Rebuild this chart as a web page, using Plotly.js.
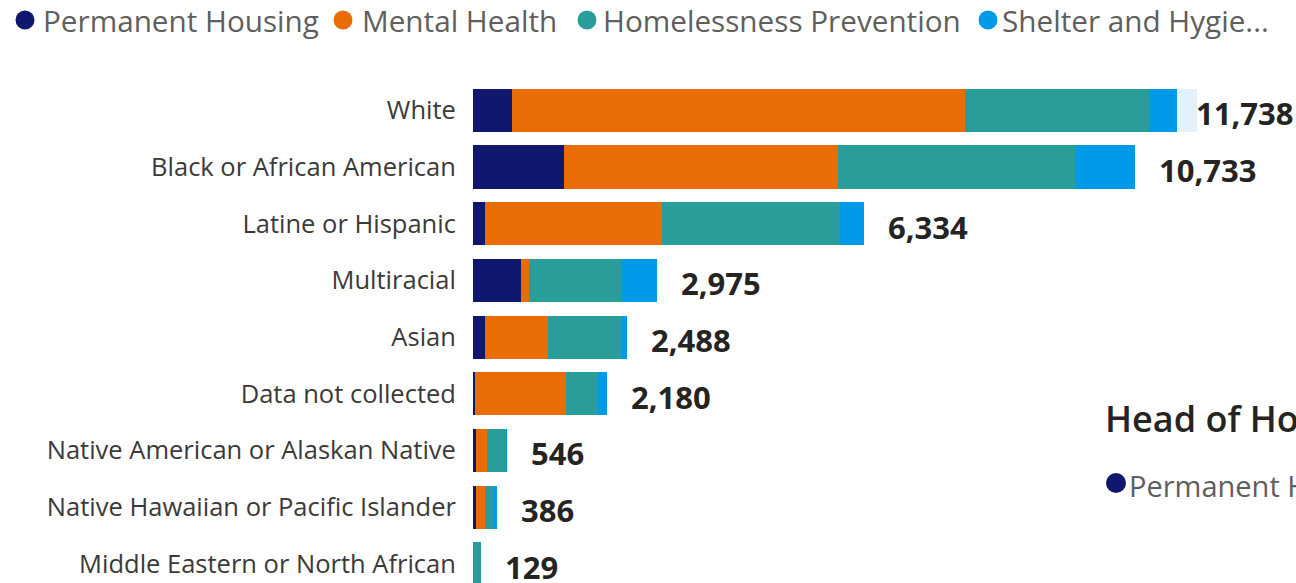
<!DOCTYPE html>
<html>
<head>
<meta charset="utf-8">
<script src="https://cdn.plot.ly/plotly-3.0.1.min.js"></script>
<style>
  html, body { margin: 0; padding: 0; background: #ffffff; }
  #chart { width: 1296px; height: 583px; }
</style>
</head>
<body>
<div id="chart"></div>
<script>
const categories = [
  "White",
  "Black or African American",
  "Latine or Hispanic",
  "Multiracial",
  "Asian",
  "Data not collected",
  "Native American or Alaskan Native",
  "Native Hawaiian or Pacific Islander",
  "Middle Eastern or North African"
];
const seriesNames = ["Permanent Housing", "Mental Health", "Homelessness Prevention", "Shelter and Hygie...", "Other"];
const permanentHousing = [632, 1475, 194, 783, 200, 37, 50, 55, 0];
const mentalHealth = [7342, 4441, 2870, 118, 1010, 1467, 183, 140, 0];
const homelessnessPrevention = [2982, 3841, 2891, 1499, 1213, 530, 287, 153, 122];
const shelterHygiene = [454, 976, 379, 575, 65, 146, 26, 38, 7];
const otherServices = [328, 0, 0, 0, 0, 0, 0, 0, 0];

const colors = ["#10176E", "#E96C07", "#289D99", "#009AE8", "#E2F1FC"];
const seriesValues = [permanentHousing, mentalHealth, homelessnessPrevention, shelterHygiene, otherServices];

// layout geometry (pixels)
const W = 1296, H = 583;
const M = { l: 473, r: 0, t: 82, b: 0 };
const plotW = W - M.l - M.r, plotH = H - M.t - M.b;
const px2x = px => (px - M.l) / plotW;
const py2y = py => 1 - (py - M.t) / plotH;

const traces = seriesValues.map((vals, i) => ({
  type: "bar",
  orientation: "h",
  name: seriesNames[i],
  x: vals,
  y: categories,
  marker: { color: colors[i], line: { width: 0 } },
  hoverinfo: "x+name"
}));

const totals = categories.map((c, j) => seriesValues.reduce((s, arr) => s + arr[j], 0));
const fmt = v => v.toLocaleString("en-US");
const totalFont = { family: "Open Sans", size: 31, color: "#252423", weight: 700 };

const annotations = totals.map((t, j) => {
  if (j === 0) {
    return {
      x: 1, xref: "paper", y: categories[j], yref: "y",
      text: fmt(t), showarrow: false, xanchor: "right", yanchor: "middle",
      xshift: -1, yshift: -3, font: totalFont
    };
  }
  return {
    x: t, xref: "x", y: categories[j], yref: "y",
    text: fmt(t), showarrow: false, xanchor: "left", yanchor: "middle",
    xshift: 22, yshift: -3, font: totalFont
  };
});

// legend row (top)
const legendCircleX = [25, 343, 587, 988];
const legendTextX = [41, 360, 601, 1000];
const legendY = 20;
const shapes = [];
for (let i = 0; i < 4; i++) {
  shapes.push({
    type: "circle", xref: "paper", yref: "paper",
    xsizemode: "pixel", ysizemode: "pixel",
    xanchor: px2x(legendCircleX[i]), yanchor: py2y(legendY),
    x0: -9.5, x1: 9.5, y0: -9.5, y1: 9.5,
    fillcolor: colors[i], line: { width: 0 }
  });
  annotations.push({
    x: px2x(legendTextX[i]), xref: "paper", y: py2y(legendY), yref: "paper",
    text: seriesNames[i], showarrow: false, xanchor: "left", yanchor: "middle",
    font: { family: "Open Sans", size: 29.7, color: "#605E5C" }
  });
}

// neighbouring visual, partly visible on the right
annotations.push({
  x: px2x(1103), xref: "paper", y: py2y(418), yref: "paper",
  text: "Head of Household", showarrow: false, xanchor: "left", yanchor: "middle",
  font: { family: "Open Sans", size: 36, color: "#252423", weight: 600 }
});
annotations.push({
  x: px2x(1127), xref: "paper", y: py2y(485), yref: "paper",
  text: "Permanent Housing", showarrow: false, xanchor: "left", yanchor: "middle",
  font: { family: "Open Sans", size: 29, color: "#605E5C" }
});
shapes.push({
  type: "circle", xref: "paper", yref: "paper",
  xsizemode: "pixel", ysizemode: "pixel",
  xanchor: px2x(1116), yanchor: py2y(483),
  x0: -10, x1: 10, y0: -10, y1: 10,
  fillcolor: colors[0], line: { width: 0 }
});

const layout = {
  width: W,
  height: H,
  margin: { l: M.l, r: M.r, t: M.t, b: M.b, pad: 0 },
  paper_bgcolor: "#ffffff",
  plot_bgcolor: "#ffffff",
  barmode: "stack",
  bargap: 0.24,
  showlegend: false,
  font: { family: "Open Sans", color: "#252423" },
  xaxis: {
    range: [0, 13340],
    showgrid: false, zeroline: false, showline: false,
    showticklabels: false, ticks: ""
  },
  yaxis: {
    type: "category",
    categoryorder: "array",
    categoryarray: categories,
    range: [8.34, -0.5],
    autorange: false,
    showgrid: false, zeroline: false, showline: false,
    ticks: "outside", ticklen: 11, tickcolor: "rgba(0,0,0,0)",
    tickfont: { family: "Open Sans", size: 25.5, color: "#3B3A39" }
  },
  shapes: shapes,
  annotations: annotations
};

Plotly.newPlot("chart", traces, layout, { displayModeBar: false, staticPlot: true });
</script>
</body>
</html>
